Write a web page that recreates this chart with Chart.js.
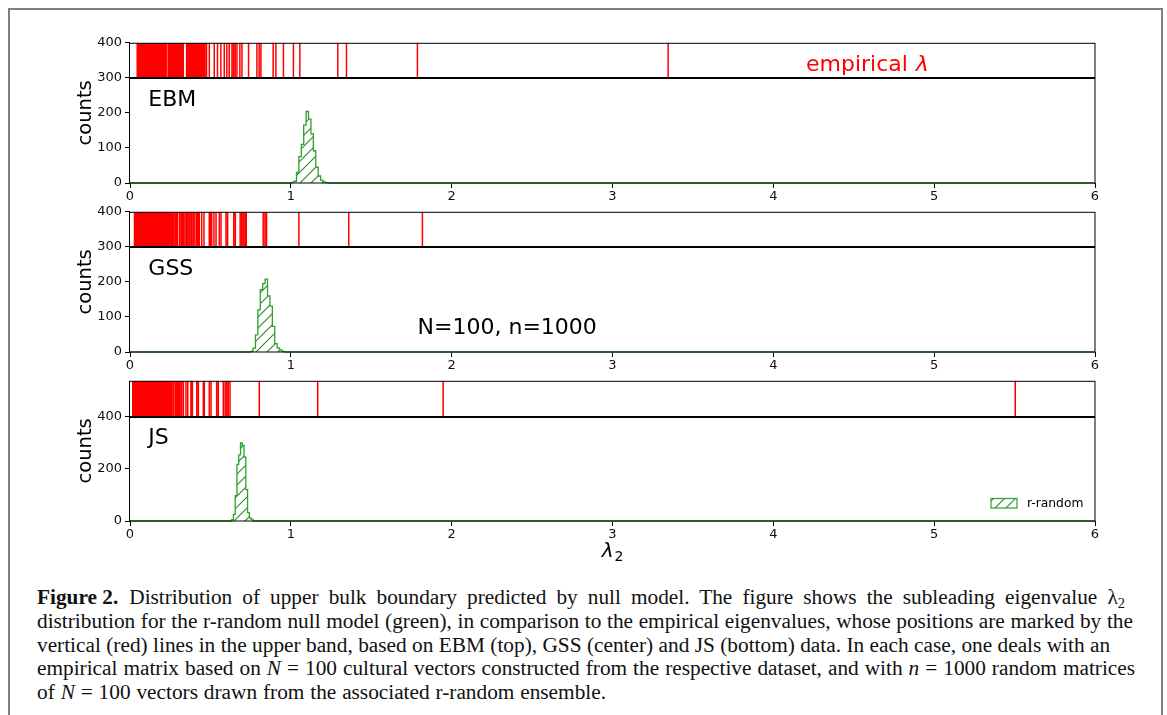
<!DOCTYPE html>
<html><head><meta charset="utf-8">
<script src="https://cdn.jsdelivr.net/npm/chart.js@4.4.1/dist/chart.umd.min.js"></script>
<style>
html,body{margin:0;padding:0;background:#fff;}
body{width:1167px;height:715px;position:relative;overflow:hidden;}
#frame{position:absolute;left:8px;top:8px;width:1155px;height:760px;border:2px solid #808080;box-sizing:border-box;}
.panel{position:absolute;left:0;width:1167px;}
#caption{position:absolute;left:37px;top:586px;font-family:"Liberation Serif","DejaVu Serif",serif;font-size:21.3px;line-height:23.75px;color:#111;white-space:nowrap;}
#caption .ln{display:block;height:23.75px;}
#caption .ln span.t{display:inline-block;}
#caption b{word-spacing:0 !important;}
#caption .gap{display:inline-block;width:11px;}
#caption sub{font-size:0.68em;line-height:0;vertical-align:-0.3em;}
</style></head><body>
<div id="frame"></div>
<div class="panel" style="top:32px;height:181px"><canvas id="c1"></canvas></div>
<div class="panel" style="top:201px;height:181px"><canvas id="c2"></canvas></div>
<div class="panel" style="top:370px;height:201px"><canvas id="c3"></canvas></div>
<div id="caption">
<div class="ln"><span class="t"><b>Figure 2.</b><span class="gap"></span>Distribution of upper bulk boundary predicted by null model. The figure shows the subleading eigenvalue λ<sub>2</sub></span></div>
<div class="ln"><span class="t">distribution for the r-random null model (green), in comparison to the empirical eigenvalues, whose positions are marked by the</span></div>
<div class="ln"><span class="t">vertical (red) lines in the upper band, based on EBM (top), GSS (center) and JS (bottom) data. In each case, one deals with an</span></div>
<div class="ln"><span class="t">empirical matrix based on <i>N</i> = 100 cultural vectors constructed from the respective dataset, and with <i>n</i> = 1000 random matrices</span></div>
<div class="ln"><span class="t">of <i>N</i> = 100 vectors drawn from the associated r-random ensemble.</span></div>
</div>
<script>
// ---------- data ----------
const xTicks = [0, 1, 2, 3, 4, 5, 6];
const yTicksEBM = [0, 100, 200, 300, 400];
const yTicksGSS = [0, 100, 200, 300, 400];
const yTicksJS = [0, 200, 400];

// r-random histograms (bin edges and counts)
const ebmEdges = [1.005, 1.020, 1.035, 1.050, 1.065, 1.080, 1.095, 1.110, 1.125, 1.140, 1.155, 1.170, 1.185, 1.200, 1.215, 1.230];
const ebmCounts = [2, 5, 30, 75, 110, 165, 204, 182, 140, 92, 45, 20, 8, 3, 1];
const gssEdges = [0.750, 0.765, 0.780, 0.795, 0.810, 0.825, 0.840, 0.855, 0.870, 0.885, 0.900, 0.915, 0.930, 0.945, 0.960];
const gssCounts = [2, 11, 49, 120, 178, 195, 208, 160, 131, 73, 24, 12, 6, 2];
const jsEdges = [0.632, 0.643, 0.654, 0.665, 0.676, 0.687, 0.698, 0.709, 0.720, 0.731, 0.742, 0.753, 0.764];
const jsCounts = [5, 25, 97, 217, 253, 299, 290, 245, 120, 32, 12, 6];

// empirical eigenvalues (red lines)
const ebmEigen = [0.045, 0.051, 0.056, 0.063, 0.069, 0.074, 0.081, 0.087, 0.093, 0.100, 0.106, 0.111, 0.118, 0.124, 0.131, 0.137, 0.142, 0.149, 0.155, 0.161, 0.168, 0.174, 0.181, 0.187, 0.193, 0.199, 0.206, 0.212, 0.219, 0.225, 0.237, 0.243, 0.249, 0.256, 0.262, 0.268, 0.275, 0.281, 0.287, 0.293, 0.300, 0.306, 0.312, 0.319, 0.325, 0.331,
  0.352, 0.358, 0.365, 0.371, 0.379, 0.386, 0.392, 0.398, 0.407, 0.414, 0.421, 0.429, 0.437, 0.444, 0.452, 0.459, 0.466, 0.476, 0.493, 0.524, 0.544, 0.565, 0.586, 0.602, 0.617, 0.634, 0.644, 0.654, 0.665, 0.683, 0.696, 0.737, 0.789, 0.803, 0.814, 0.890, 0.907, 0.954, 1.016, 1.056, 1.292, 1.346, 1.787, 3.346];
const gssEigen = [0.028, 0.034, 0.040, 0.046, 0.052, 0.058, 0.065, 0.071, 0.077, 0.083, 0.089, 0.096, 0.102, 0.108, 0.114, 0.121, 0.127, 0.133, 0.139, 0.146, 0.152, 0.158, 0.164, 0.170, 0.177, 0.183, 0.189, 0.195, 0.202, 0.208, 0.214, 0.220, 0.227, 0.233, 0.239, 0.245, 0.252, 0.258, 0.264,
  0.270, 0.280, 0.287, 0.294, 0.307, 0.317, 0.324, 0.332, 0.342, 0.352, 0.359, 0.369, 0.379, 0.384, 0.394, 0.404, 0.415, 0.424, 0.431, 0.446, 0.460, 0.493, 0.501, 0.508, 0.522, 0.535, 0.555, 0.566, 0.597, 0.607, 0.645, 0.655, 0.685, 0.695, 0.705, 0.715, 0.723, 0.828, 0.839, 0.849, 1.050, 1.360, 1.818];
const jsEigen = [0.017, 0.023, 0.029, 0.035, 0.041, 0.047, 0.053, 0.059, 0.066, 0.072, 0.078, 0.084, 0.090, 0.097, 0.103, 0.109, 0.115, 0.121, 0.128, 0.134, 0.140, 0.146, 0.152, 0.159, 0.165, 0.171, 0.177, 0.183, 0.190, 0.196, 0.202, 0.208, 0.214, 0.221, 0.227, 0.233, 0.239, 0.245, 0.251,
  0.259, 0.269, 0.280, 0.288, 0.296, 0.303, 0.311, 0.321, 0.332, 0.348, 0.359, 0.379, 0.388, 0.415, 0.425, 0.456, 0.462, 0.493, 0.504, 0.539, 0.549, 0.580, 0.591, 0.601, 0.611, 0.622, 0.804, 1.167, 1.947, 5.504];

// caption line right ends (page x) used to set word spacing
const captionLineEnds = [1125, 1133, 1110, 1135, 606];

// ---------- helpers ----------
const FONT = 'DejaVu Sans';
const GREEN = '#2ca02c';
const HATCH = '#2a8a2a';

function makeHatch(ctx) {
  const s = 11;
  const c = document.createElement('canvas');
  c.width = s; c.height = s;
  const g = c.getContext('2d');
  g.strokeStyle = HATCH; g.lineWidth = 1.1;
  g.beginPath();
  g.moveTo(-1, s + 1); g.lineTo(s + 1, -1);
  g.moveTo(-1, 1); g.lineTo(1, -1);
  g.moveTo(s - 1, s + 1); g.lineTo(s + 1, s - 1);
  g.stroke();
  return ctx.createPattern(c, 'repeat');
}

function stepPoints(edges, counts, xmin, xmax) {
  const pts = [{x: xmin, y: 0}, {x: edges[0], y: 0}];
  for (let i = 0; i < counts.length; i++) {
    pts.push({x: edges[i], y: counts[i]}, {x: edges[i + 1], y: counts[i]});
  }
  pts.push({x: edges[edges.length - 1], y: 0}, {x: xmax, y: 0});
  return pts;
}

function eigenPoints(eig, lo, hi) {
  const pts = [];
  eig.forEach(v => { pts.push({x: v, y: lo}, {x: v, y: hi}, {x: v, y: null}); });
  return pts;
}

const panelPlugin = {
  id: 'panelDeco',
  afterDatasetsDraw(chart, args, o) {
    const {ctx, chartArea: a, scales: {y}} = chart;
    ctx.save();
    ctx.strokeStyle = '#000';
    ctx.lineWidth = 1;
    ctx.strokeRect(a.left - 0.5, a.top + 0.5, a.right - a.left + 0.5, a.bottom - a.top - 0.5);
    const yb = Math.round(y.getPixelForValue(o.band));
    ctx.lineWidth = 2;
    ctx.beginPath(); ctx.moveTo(a.left, yb); ctx.lineTo(a.right, yb); ctx.stroke();
    ctx.fillStyle = '#000';
    ctx.textBaseline = 'alphabetic';
    ctx.textAlign = 'left';
    ctx.font = '22px "' + FONT + '"';
    const W = a.right - a.left, H = a.bottom - a.top;
    ctx.fillText(o.label, a.left + 0.019 * W, a.top + 0.452 * H);
    if (o.note) {
      ctx.fillText(o.note, a.left + 0.298 * W, a.top + 0.872 * H);
    }
    if (o.empirical) {
      ctx.fillStyle = '#ff0000';
      const x0 = a.left + 0.7005 * W, yy = a.top + 0.199 * H;
      ctx.fillText('empirical ', x0, yy);
      const w = ctx.measureText('empirical ').width;
      ctx.font = 'italic 22px "' + FONT + '"';
      ctx.fillText('λ', x0 + w + 1, yy);
    }
    if (o.legend) {
      const px = a.right - 104, py = a.bottom - 22.5;
      ctx.fillStyle = o.pattern;
      ctx.fillRect(px, py, 26, 9.5);
      ctx.strokeStyle = GREEN; ctx.lineWidth = 1.2;
      ctx.strokeRect(px, py, 26, 9.5);
      ctx.fillStyle = '#000';
      ctx.font = '12.3px "' + FONT + '"';
      ctx.textBaseline = 'middle';
      ctx.fillText(o.legend, a.right - 68, a.bottom - 17.5);
    }
    if (o.xtitle) {
      const cx = (a.left + a.right) / 2;
      ctx.fillStyle = '#000';
      ctx.textBaseline = 'alphabetic';
      ctx.font = 'italic 20px "' + FONT + '"';
      ctx.textAlign = 'right';
      ctx.fillText('λ', cx + 1, a.bottom + 36);
      ctx.textAlign = 'left';
      ctx.font = '14px "' + FONT + '"';
      ctx.fillText('2', cx + 2, a.bottom + 40);
    }
    ctx.restore();
  }
};

function makePanel(id, p) {
  const canvas = document.getElementById(id);
  const ctx = canvas.getContext('2d');
  const pattern = makeHatch(ctx);
  return new Chart(ctx, {
    type: 'line',
    data: {
      datasets: [
        {
          data: stepPoints(p.edges, p.counts, 0, 6),
          borderColor: GREEN, borderWidth: 1.3,
          backgroundColor: pattern, fill: 'origin',
          pointRadius: 0, tension: 0, clip: 3
        },
        {
          data: eigenPoints(p.eigen, p.band, p.ymax),
          borderColor: '#ff0000', borderWidth: 1.5,
          pointRadius: 0, tension: 0, spanGaps: false, fill: false
        }
      ]
    },
    options: {
      responsive: true, maintainAspectRatio: false, animation: false,
      events: [],
      layout: {padding: {left: 74, right: 72, top: 10, bottom: 0}},
      plugins: {
        legend: {display: false}, tooltip: {enabled: false},
        panelDeco: {band: p.band, label: p.label, note: p.note, empirical: p.empirical,
                    legend: p.legend, xtitle: p.xtitle, pattern: pattern}
      },
      scales: {
        x: {
          type: 'linear', min: 0, max: 6,
          afterBuildTicks: s => { s.ticks = xTicks.map(v => ({value: v})); },
          afterFit: s => { s.height = p.xh; },
          grid: {display: true, drawOnChartArea: false, drawTicks: true, tickLength: 5, color: '#000', lineWidth: 1},
          border: {display: false},
          ticks: {font: {family: FONT, size: 13}, color: '#111', padding: 1, maxRotation: 0,
                  callback: v => String(v)}
        },
        y: {
          type: 'linear', min: 0, max: p.ymax,
          afterBuildTicks: s => { s.ticks = p.yticks.map(v => ({value: v})); },
          afterFit: s => { s.width = 56; },
          grid: {display: true, drawOnChartArea: false, drawTicks: true, tickLength: 5, color: '#000', lineWidth: 1},
          border: {display: false},
          ticks: {font: {family: FONT, size: 13}, color: '#111', padding: 3,
                  callback: v => String(v)},
          title: {display: true, text: 'counts', font: {family: FONT, size: 19.5}, color: '#000', padding: 0}
        }
      }
    },
    plugins: [panelPlugin]
  });
}

makePanel('c1', {edges: ebmEdges, counts: ebmCounts, eigen: ebmEigen, band: 300, ymax: 400,
  yticks: yTicksEBM, label: 'EBM', empirical: true, xh: 30});
makePanel('c2', {edges: gssEdges, counts: gssCounts, eigen: gssEigen, band: 300, ymax: 400,
  yticks: yTicksGSS, label: 'GSS', note: 'N=100, n=1000', xh: 30});
makePanel('c3', {edges: jsEdges, counts: jsCounts, eigen: jsEigen, band: 400, ymax: 537,
  yticks: yTicksJS, label: 'JS', legend: 'r-random', xtitle: true, xh: 50});

// fit caption lines to the reference line lengths (spaces inside bold label excluded)
document.querySelectorAll('#caption .ln span.t').forEach((sp, i) => {
  const r = sp.getBoundingClientRect();
  let spaces = (sp.textContent.match(/ /g) || []).length;
  sp.querySelectorAll('b').forEach(b => { spaces -= (b.textContent.match(/ /g) || []).length; });
  if (spaces > 0) {
    const extra = (captionLineEnds[i] - r.right) / spaces;
    sp.style.wordSpacing = extra.toFixed(2) + 'px';
  }
});
</script>
</body></html>
